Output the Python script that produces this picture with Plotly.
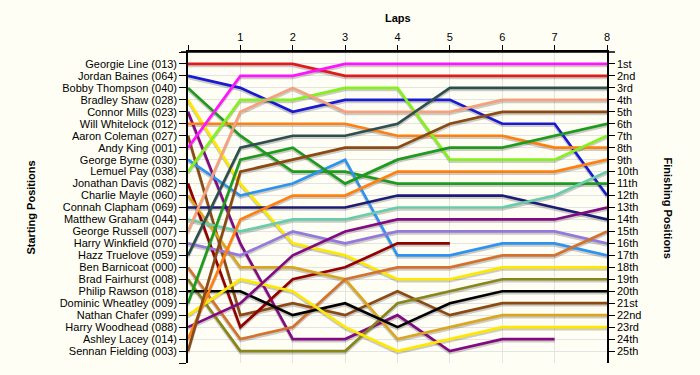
import plotly.graph_objects as go

# ---------------- data ----------------
laps = [0, 1, 2, 3, 4, 5, 6, 7, 8]

drivers = [
    "Georgie Line (013)", "Jordan Baines (064)", "Bobby Thompson (040)",
    "Bradley Shaw (028)", "Connor Mills (023)", "Will Whitelock (012)",
    "Aaron Coleman (027)", "Andy King (001)", "George Byrne (030)",
    "Lemuel Pay (038)", "Jonathan Davis (082)", "Charlie Mayle (060)",
    "Connah Clapham (069)", "Matthew Graham (044)", "George Russell (007)",
    "Harry Winkfield (070)", "Hazz Truelove (059)", "Ben Barnicoat (000)",
    "Brad Fairhurst (008)", "Philip Rawson (018)", "Dominic Wheatley (009)",
    "Nathan Chafer (099)", "Harry Woodhead (088)", "Ashley Lacey (014)",
    "Sennan Fielding (003)",
]

# position of each driver (same order as drivers) after each lap; None = retired
lap0 = [1, 2, 3, 4, 5, 6, 7, 8, 9, 10, 11, 12, 13, 14, 15, 16, 17, 18, 19, 20, 21, 22, 23, 24, 25]
lap1 = [1, 3, 7, 11, 16, 6, 22, 2, 12, 4, 23, 18, 13, 15, 5, 17, 8, 24, 25, 20, 9, 19, 21, 14, 10]
lap2 = [1, 5, 10, 16, 24, 6, 21, 2, 11, 4, 19, 18, 13, 14, 3, 15, 7, 23, 25, 22, 8, 20, 17, 12, 9]
lap3 = [2, 4, 10, 17, 24, 6, 22, 1, 9, 3, 18, 19, 13, 14, 5, 16, 7, 19, 25, 21, 11, 23, 15, 12, 8]
lap4 = [2, 4, 11, 19, 22, 7, 20, 1, 17, 3, 16, 24, 12, 13, 5, 15, 6, 18, 21, 23, 9, 25, 14, 10, 8]
lap5 = [2, 4, 11, 19, 25, 7, 22, 1, 17, 9, 16, 23, 12, 13, 5, 15, 3, 18, 20, 21, 8, 24, 14, 10, 6]
lap6 = [2, 6, 11, 18, 24, 7, 21, 1, 16, 9, None, 22, 12, 13, 4, 15, 3, 17, 19, 20, 8, 23, 14, 10, 5]
lap7 = [2, 6, 11, 18, 24, 8, 21, 1, 16, 9, None, 22, 13, 12, 4, 15, 3, 17, 19, 20, 7, 23, 14, 10, 5]
lap8 = [2, 12, 11, 18, None, 8, 21, 1, 17, 7, None, 22, 14, 10, 4, 16, 3, 15, 19, 20, 6, 23, 13, 9, 5]

lap_tick_labels = ["", "1", "2", "3", "4", "5", "6", "7", "8"]
finish_labels = [
    "1st", "2nd", "3rd", "4th", "5th", "6th", "7th", "8th", "9th", "10th",
    "11th", "12th", "13th", "14th", "15th", "16th", "17th", "18th", "19th",
    "20th", "21st", "22nd", "23rd", "24th", "25th",
]

# ---------------- style ----------------
colors = [
    "#E01B1B", "#1A1AD2", "#1E9A1E", "#FFE800", "#820A82", "#FF8010",
    "#8B4A14", "#FF14FF", "#2E92F0", "#84F01E", "#920000", "#DAA520",
    "#1C1C74", "#66CCAA", "#F4A27E", "#9478DC", "#2F4F4F", "#D2722E",
    "#86861A", "#000000", "#1E9A1E", "#FFE800", "#820A82", "#FF8010",
    "#8B4A14",
]
FONT = "Liberation Sans, Arial, sans-serif"
BG = "#FFFEF5"
GRID = "#E4E4E4"
LW = 2.7

all_laps = [lap0, lap1, lap2, lap3, lap4, lap5, lap6, lap7, lap8]
n_rows = len(drivers)

fig = go.Figure()

# pixel geometry used for a 2px drop shadow on an overlaid axis
plot_h = 375 - 52 - 12
row_px = plot_h / (n_rows + 1)
shift = 2.0 / row_px

for i, name in enumerate(drivers):
    ys = [lp[i] for lp in all_laps]
    fig.add_trace(go.Scatter(
        x=laps, y=ys, mode="lines", yaxis="y",
        line=dict(color="rgba(0,0,0,0.2)", width=LW),
        hoverinfo="skip", showlegend=False,
    ))

for i, name in enumerate(drivers):
    ys = [lp[i] for lp in all_laps]
    fig.add_trace(go.Scatter(
        x=laps, y=ys, mode="lines", yaxis="y2", name=name,
        line=dict(color=colors[i], width=LW),
        showlegend=False,
    ))

start_order = sorted(range(n_rows), key=lambda k: lap0[k])
left_vals = list(range(0, n_rows + 2))
left_text = [""] + [drivers[k] for k in start_order] + [""]
right_vals = list(range(1, n_rows + 1))

tick_font = dict(family=FONT, size=11, color="#000000")

fig.update_layout(
    width=700, height=375,
    margin=dict(l=188, r=93, t=52, b=12, autoexpand=False),
    paper_bgcolor=BG, plot_bgcolor=BG,
    showlegend=False,
    font=dict(family=FONT, size=11, color="#000000"),
    xaxis=dict(
        range=[0, 8], side="top", anchor="y2", automargin=False,
        tickvals=laps, ticktext=lap_tick_labels,
        ticks="outside", ticklen=5, tickcolor="#000000", tickwidth=1,
        showline=True, linecolor="#000000", linewidth=1.5,
        showgrid=True, gridcolor=GRID, gridwidth=1,
        zeroline=False, tickfont=tick_font,
    ),
    yaxis=dict(
        range=[n_rows + 1 - shift, -shift], visible=False, automargin=False,
        showgrid=False, zeroline=False,
    ),
    yaxis2=dict(
        range=[n_rows + 1, 0], overlaying="y", side="left", anchor="x",
        automargin=False,
        tickvals=left_vals, ticktext=left_text,
        ticks="outside", ticklen=7, tickcolor="#000000", tickwidth=1,
        showline=True, linecolor="#000000", linewidth=1.5,
        showgrid=True, gridcolor=GRID, gridwidth=1,
        zeroline=False, tickfont=tick_font,
    ),
    yaxis3=dict(
        range=[n_rows + 1, 0], overlaying="y", side="right", anchor="x",
        automargin=False,
        tickvals=right_vals, ticktext=finish_labels,
        ticks="outside", ticklen=6, tickcolor="#000000", tickwidth=1,
        showline=True, linecolor="#000000", linewidth=1.5,
        showgrid=False, zeroline=False, tickfont=tick_font,
    ),
)

# right axis needs at least one trace to be drawn
fig.add_trace(go.Scatter(x=[None], y=[None], yaxis="y3", showlegend=False, hoverinfo="skip"))

# top axis line extends slightly past the plot on both sides
fig.add_shape(type="line", xref="paper", yref="paper",
              x0=-7 / 419, x1=1 + 8 / 419, y0=1, y1=1,
              line=dict(color="#000000", width=1.5))

title_font = dict(family=FONT, size=11, color="#000000")
fig.add_annotation(text="<b>Laps</b>", xref="paper", yref="paper",
                   x=0.5, y=1 + 34 / plot_h, showarrow=False,
                   xanchor="center", yanchor="middle", font=title_font)
fig.add_annotation(text="<b>Starting Positions</b>", xref="paper", yref="paper",
                   x=-158 / 419, y=0.5, showarrow=False, textangle=-90,
                   xanchor="center", yanchor="middle", font=title_font)
fig.add_annotation(text="<b>Finishing Positions</b>", xref="paper", yref="paper",
                   x=1 + 61 / 419, y=0.5, showarrow=False, textangle=90,
                   xanchor="center", yanchor="middle", font=title_font)

fig.write_html(
    "out.html",
    config={"displayModeBar": False},
    post_script="document.body.style.margin='0';document.body.style.padding='0';"
                "document.body.style.background='" + BG + "';",
)
